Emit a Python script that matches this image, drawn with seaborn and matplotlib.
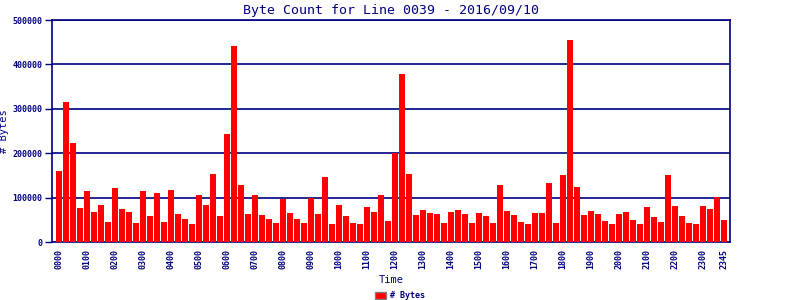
import matplotlib
matplotlib.use("Agg")
import matplotlib.pyplot as plt
import seaborn as sns
import pandas as pd
from matplotlib.patches import Patch

times = [f"{h:02d}{m:02d}" for h in range(24) for m in (0, 15, 30, 45)]
byte_counts = [
    160000, 316000, 223000, 77000, 115000, 68000, 84000, 46000,
    122000, 75000, 68000, 43000, 115000, 59000, 111000, 46000,
    118000, 64000, 52000, 41000, 106000, 84000, 154000, 59000,
    244000, 442000, 129000, 64000, 106000, 61000, 52000, 43000,
    97000, 66000, 52000, 43000, 100000, 64000, 147000, 41000,
    84000, 59000, 43000, 41000, 79000, 68000, 106000, 48000,
    201000, 379000, 154000, 61000, 73000, 66000, 64000, 43000,
    68000, 73000, 64000, 43000, 66000, 59000, 43000, 129000,
    70000, 61000, 46000, 41000, 66000, 66000, 133000, 43000,
    151000, 456000, 124000, 61000, 70000, 64000, 48000, 41000,
    64000, 68000, 50000, 41000, 79000, 57000, 46000, 151000,
    82000, 59000, 43000, 41000, 82000, 75000, 102000, 50000,
]
tick_labels = [t for t in times if t.endswith("00")] + ["2345"]
title = "Byte Count for Line 0039 - 2016/09/10"
series_name = "# Bytes"

NAVY = "#000080"
RED = "#ff0000"

sns.set_style("white")
plt.rcParams["font.family"] = ["DejaVu Sans Mono"]

df = pd.DataFrame({"Time": times, "Bytes": byte_counts})

fig = plt.figure(figsize=(8, 3), dpi=100)
ax = fig.add_axes([52 / 800, (300 - 242.3) / 300, (730 - 52) / 800, (242.3 - 20) / 300])

sns.barplot(data=df, x="Time", y="Bytes", color=RED, saturation=1, width=0.86,
            linewidth=0, edgecolor=RED, ax=ax, zorder=3)

ax.set_ylim(0, 500000)
ax.set_xlim(-1.0, 95.86)
ax.set_yticks([0, 100000, 200000, 300000, 400000, 500000])
ax.set_yticklabels(["0", "100000", "200000", "300000", "400000", "500000"],
                   fontsize=6, fontweight="bold", color=NAVY)
tick_pos = [times.index(t) for t in tick_labels]
ax.set_xticks(tick_pos)
ax.set_xticklabels(tick_labels, rotation=90, fontsize=6, fontweight="bold", color=NAVY)
ax.tick_params(axis="y", which="both", direction="out", length=5, width=1, color=NAVY, pad=2, left=True)
ax.tick_params(axis="x", length=0, pad=5)

ax.yaxis.grid(True, color=NAVY, linewidth=1.2, zorder=1)
ax.xaxis.grid(False)
ax.set_axisbelow(True)
for s in ax.spines.values():
    s.set_color(NAVY)
    s.set_linewidth(1.2)
    s.set_visible(True)

ax.set_xlabel("Time", fontsize=7.5, color=NAVY, labelpad=4)
ax.set_ylabel(series_name, fontsize=7.5, color=NAVY)
ax.yaxis.set_label_coords(-0.063, 0.5)
ax.set_title(title, fontsize=9.5, color=NAVY, pad=4)

handles = [Patch(facecolor=RED, edgecolor="#808080", linewidth=1, label=series_name)]
fig.legend(handles=handles, loc="lower center", bbox_to_anchor=(0.5, -0.025), frameon=False,
           prop={"size": 6, "weight": "bold"}, labelcolor=NAVY, handlelength=1.3,
           handleheight=0.9, handletextpad=0.4)

fig.savefig("out.png", dpi=100)
